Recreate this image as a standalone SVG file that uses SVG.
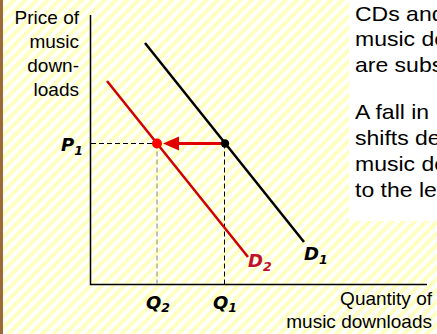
<svg xmlns="http://www.w3.org/2000/svg" width="437" height="334" viewBox="0 0 437 334">
<defs>
<pattern id="stripes" patternUnits="userSpaceOnUse" width="8" height="8" patternTransform="rotate(45)">
<rect width="8" height="8" fill="#ffffff"/>
<rect width="4" height="8" fill="#ffffc0"/>
</pattern>
</defs>
<style>
.lbl{font-family:"Liberation Sans",Arial,sans-serif;font-size:19px;fill:#000}
.para{font-family:"Liberation Sans",Arial,sans-serif;font-size:20px;fill:#000}
.var{font-family:"DejaVu Sans",Verdana,sans-serif;font-size:18px;font-weight:bold;font-style:italic;fill:#000}
.sub{font-size:12.5px}
.axis{stroke:#000;stroke-width:1.5;fill:none}
.dash{stroke:#000;stroke-width:1;stroke-dasharray:5,3;fill:none}
.dashg{stroke:#999;stroke-width:1.2;stroke-dasharray:5,3;fill:none}
</style>
<rect width="437" height="334" fill="url(#stripes)"/>
<rect x="0" y="0" width="3" height="334" fill="#9c6a3a"/>
<rect x="349" y="0" width="88" height="221" fill="#ffffff"/>

<g id="axes">
<path class="axis" d="M90.5,15 V284.5 H427"/>
</g>
<g id="y-label">
<text class="lbl" text-anchor="end"><tspan x="79" y="23.5">Price of</tspan><tspan x="79" y="47.5">music</tspan><tspan x="79" y="71.5">down-</tspan><tspan x="79" y="95.5">loads</tspan></text>
</g>
<g id="x-label">
<text class="lbl" text-anchor="end"><tspan x="432" y="305">Quantity of</tspan><tspan x="432" y="328">music downloads</tspan></text>
</g>
<g id="paragraph">
<g transform="translate(355,0) scale(1.15,1)">
<text class="para"><tspan x="0" y="21">CDs and</tspan><tspan x="0" y="46.5">music do</tspan><tspan x="0" y="72">are subs</tspan><tspan x="0" y="119">A fall in</tspan><tspan x="0" y="145">shifts de</tspan><tspan x="0" y="171">music do</tspan><tspan x="0" y="197">to the le</tspan></text>
</g>
</g>

<g id="connectors">
<path class="dash" d="M91,143.5 H157"/>
<path class="dashg" d="M157,143.5 V284"/>
<path class="dash" d="M224.5,143.5 V284"/>
<line x1="222" y1="143.5" x2="178" y2="143.5" stroke="#e00000" stroke-width="3"/>
<polygon points="163,143.5 179,136.5 179,150.5" fill="#e00000"/>
</g>

<g id="D1">
<line x1="145" y1="43" x2="304" y2="242" stroke="#000" stroke-width="2.5"/>
<text class="var" x="304" y="260">D<tspan class="sub" dy="4">1</tspan></text>
</g>
<g id="D2">
<line x1="107" y1="81" x2="248" y2="257" stroke="#d00000" stroke-width="2.5"/>
<text class="var" x="248" y="267" style="fill:#c0102f">D<tspan class="sub" dy="4">2</tspan></text>
</g>
<g id="pointA">
<circle cx="225" cy="143.5" r="4.2" fill="#000"/>
</g>
<g id="pointB">
<circle cx="157" cy="143.5" r="5" fill="#ff0000"/>
</g>
<g id="P1">
<text class="var" x="61" y="151">P<tspan class="sub" dy="4">1</tspan></text>
</g>
<g id="Q2">
<text class="var" x="146" y="309">Q<tspan class="sub" dy="3">2</tspan></text>
</g>
<g id="Q1">
<text class="var" x="213" y="309">Q<tspan class="sub" dy="3">1</tspan></text>
</g>
</svg>
